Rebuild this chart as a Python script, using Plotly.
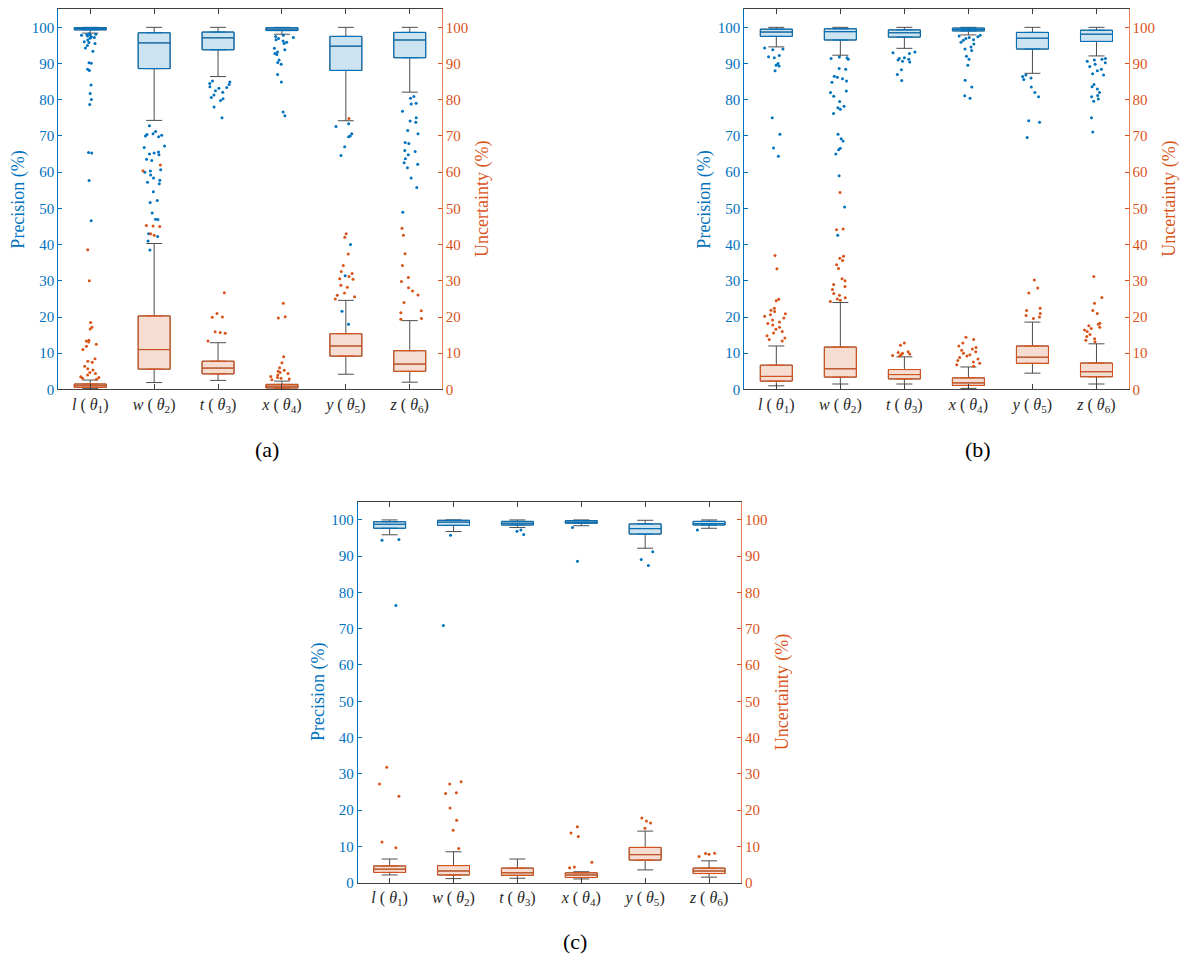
import plotly.graph_objects as go

# ---------------- data ----------------
CATEGORIES = ["l", "w", "t", "x", "y", "z"]
THETA_INDEX = ["1", "2", "3", "4", "5", "6"]
Y_TICKS = [0, 10, 20, 30, 40, 50, 60, 70, 80, 90, 100]
PANEL_LABELS = ["(a)", "(b)", "(c)"]
LEFT_TITLE = "Precision (%)"
RIGHT_TITLE = "Uncertainty (%)"

# Panel (a) - precision
A_PREC_Q1 = [99.3, 88.6, 93.8, 99.1, 88.1, 91.6]
A_PREC_MED = [99.6, 95.7, 97.1, 99.5, 94.8, 96.5]
A_PREC_Q3 = [99.9, 98.5, 98.7, 99.9, 97.5, 98.6]
A_PREC_LO = [98.4, 74.3, 86.4, 98.1, 74.2, 82.1]
A_PREC_HI = [100, 100, 100, 100, 100, 100]
A_PREC_OUT = [
    [98.2, 98.1, 98.0, 97.9, 97.8, 97.6, 97.4, 97.2, 97.0, 96.5, 96.0, 95.8, 95.5, 95.0,
     94.3, 93.4, 90.2, 90.1, 88.4, 88.1, 84.1, 81.7, 80.1, 78.7, 65.4, 65.3, 57.7, 46.6],
    [72.8, 71.2, 70.6, 70.4, 70.2, 70.0, 69.8, 67.2, 66.8, 65.6, 65.3, 65.0, 64.8, 63.6,
     63.2, 60.7, 60.3, 60.0, 59.2, 58.4, 57.8, 57.2, 56.8, 54.6, 52.2, 51.6, 48.7, 47.0,
     46.9, 43.0, 42.2, 41.0, 38.5],
    [85.2, 84.9, 84.5, 84.2, 83.6, 83.4, 83.2, 82.5, 82.1, 81.3, 80.6, 80.3, 79.8, 78.0, 75.0],
    [97.8, 97.5, 97.2, 96.9, 96.6, 96.2, 95.9, 95.5, 94.2, 93.8, 93.2, 92.8, 92.5, 91.0,
     90.3, 89.8, 87.0, 84.9, 76.6, 75.6],
    [73.4, 72.6, 70.6, 70.0, 69.8, 67.0, 64.6, 40.0, 31.4, 21.6, 18.0],
    [80.9, 80.4, 79.0, 78.8, 76.8, 75.0, 74.1, 73.8, 71.5, 70.6, 68.2, 67.9, 66.0, 65.7,
     64.8, 63.7, 62.6, 62.2, 61.2, 58.4, 55.8, 48.9],
]
# Panel (a) - uncertainty
A_UNC_Q1 = [0.55, 5.6, 4.3, 0.4, 9.2, 5.0]
A_UNC_MED = [1.0, 11.0, 5.9, 0.9, 12.0, 7.0]
A_UNC_Q3 = [1.5, 20.3, 7.8, 1.4, 15.4, 10.7]
A_UNC_LO = [0.3, 1.9, 2.5, 0.1, 4.2, 2.0]
A_UNC_HI = [2.6, 40.3, 12.9, 2.3, 24.6, 19.0]
A_UNC_OUT = [
    [38.6, 30.0, 18.5, 17.2, 16.7, 13.6, 13.4, 13.1, 12.5, 11.9, 11.0, 8.5, 7.8, 7.5,
     6.4, 5.7, 5.4, 4.7, 4.4, 4.0, 3.5, 3.3, 3.1, 2.8],
    [62.0, 60.4, 45.3, 45.1, 45.0, 43.0, 42.6],
    [26.7, 21.0, 20.0, 19.9, 15.9, 15.7, 15.5, 13.4],
    [23.8, 20.1, 19.7, 9.0, 7.4, 6.0, 5.3, 5.0, 4.7, 4.4, 4.0, 3.6, 3.3, 3.1, 2.9, 2.7],
    [74.8, 43.0, 42.0, 37.4, 34.2, 32.6, 32.0, 31.2, 30.6, 30.4, 28.8, 28.2, 26.6, 26.0,
     25.6, 25.0],
    [44.5, 42.6, 37.5, 34.2, 30.9, 29.8, 28.1, 27.2, 26.1, 24.0, 21.7, 21.2, 19.6, 19.4],
]

# Panel (b) - precision
B_PREC_Q1 = [97.5, 96.5, 97.3, 99.0, 94.0, 96.1]
B_PREC_MED = [98.7, 98.8, 98.5, 99.4, 97.0, 98.1]
B_PREC_Q3 = [99.5, 99.6, 99.3, 99.8, 98.6, 99.2]
B_PREC_LO = [94.6, 92.3, 94.2, 97.9, 87.3, 92.1]
B_PREC_HI = [100, 100, 100, 100, 100, 100]
B_PREC_OUT = [
    [94.3, 94.0, 93.8, 92.2, 91.9, 91.6, 90.0, 89.5, 89.3, 88.0, 75.0, 70.5, 66.7, 64.4],
    [91.8, 91.6, 91.4, 91.2, 88.6, 88.4, 86.5, 86.2, 85.8, 85.2, 84.8, 82.4, 82.0, 81.0,
     79.5, 78.2, 77.8, 77.4, 76.2, 70.5, 69.2, 68.6, 66.6, 66.2, 65.0, 59.0, 50.4, 42.6],
    [93.2, 93.0, 92.8, 91.6, 91.4, 91.2, 91.0, 90.6, 90.4, 88.3, 87.0, 85.3],
    [97.8, 97.6, 97.4, 97.2, 96.9, 96.6, 96.4, 95.9, 95.4, 94.6, 94.0, 93.6, 92.0, 91.2,
     89.5, 85.4, 83.5, 81.1, 80.4],
    [86.8, 86.4, 86.0, 85.6, 83.5, 82.0, 80.8, 74.2, 73.8, 69.6],
    [91.4, 91.2, 91.0, 90.6, 90.2, 89.8, 89.2, 88.4, 88.0, 87.2, 86.8, 84.2, 83.6, 83.0,
     82.0, 81.2, 80.8, 80.2, 79.6, 75.0, 71.1],
]
# Panel (b) - uncertainty
B_UNC_Q1 = [2.3, 3.4, 2.9, 1.1, 7.2, 3.5]
B_UNC_MED = [3.6, 5.7, 4.1, 1.8, 8.9, 4.9]
B_UNC_Q3 = [6.7, 11.7, 5.5, 3.2, 12.0, 7.3]
B_UNC_LO = [1.0, 1.5, 1.5, 0.3, 4.5, 1.5]
B_UNC_HI = [12.0, 24.0, 9.0, 6.2, 18.6, 12.6]
B_UNC_OUT = [
    [37.0, 33.3, 24.9, 24.5, 22.4, 21.9, 21.5, 20.9, 20.6, 20.2, 19.7, 19.2, 18.6, 18.2,
     17.8, 17.2, 16.6, 16.0, 15.6, 14.8, 14.2, 13.8, 13.4],
    [54.4, 44.3, 44.1, 36.8, 36.2, 35.6, 34.4, 33.4, 30.6, 30.0, 29.0, 28.4, 27.6, 26.5,
     26.0, 25.3, 25.0, 24.6, 24.3],
    [12.8, 12.2, 10.4, 10.2, 10.0, 9.8, 9.6, 9.4, 9.2],
    [14.4, 13.8, 12.8, 12.0, 11.6, 11.2, 10.8, 10.4, 10.0, 9.6, 9.2, 8.8, 8.4, 8.0, 7.6,
     7.2, 6.8, 6.4],
    [30.2, 28.0, 26.6, 22.4, 21.8, 21.0, 20.4, 20.0, 19.6],
    [31.2, 25.4, 23.8, 21.8, 21.0, 18.3, 18.0, 17.6, 17.2, 16.8, 16.4, 16.0, 15.2, 14.6,
     14.0, 13.6, 13.2],
]

# Panel (c) - precision
C_PREC_Q1 = [97.7, 98.5, 98.6, 99.1, 96.1, 98.6]
C_PREC_MED = [98.8, 99.4, 99.1, 99.4, 97.6, 99.0]
C_PREC_Q3 = [99.5, 99.9, 99.6, 99.8, 98.9, 99.6]
C_PREC_LO = [95.9, 96.8, 97.9, 98.4, 92.2, 97.7]
C_PREC_HI = [100, 100, 100, 100, 99.9, 100]
C_PREC_OUT = [
    [94.6, 94.4, 76.4],
    [95.8, 70.9],
    [97.2, 96.9, 96.0],
    [97.9, 88.6],
    [91.2, 89.1, 87.4],
    [97.2],
]
# Panel (c) - uncertainty
C_UNC_Q1 = [2.8, 2.1, 2.0, 1.4, 6.2, 2.5]
C_UNC_MED = [3.7, 3.2, 2.7, 2.1, 7.7, 3.2]
C_UNC_Q3 = [4.6, 4.7, 4.0, 2.7, 9.7, 4.0]
C_UNC_LO = [2.1, 1.1, 1.2, 1.0, 3.5, 1.5]
C_UNC_HI = [6.5, 8.5, 6.5, 3.0, 14.2, 6.0]
C_UNC_OUT = [
    [31.8, 27.2, 23.8, 11.2, 9.6],
    [27.8, 27.2, 24.8, 24.6, 20.6, 17.2, 14.4, 9.4],
    [],
    [15.4, 13.7, 12.7, 5.6, 4.3, 4.1],
    [17.8, 17.0, 16.4, 15.0],
    [8.1, 8.0, 7.8, 7.2],
]

# ---------------- styling ----------------
BLUE = "#0072BD"
ORANGE = "#D95319"
BLUE_FILL = "rgba(0,114,189,0.2)"
ORANGE_FILL = "rgba(217,83,25,0.2)"
WHISKER = "#4d4d4d"
AXIS_DARK = "#404040"
FONT = "'Liberation Serif', 'DejaVu Serif', 'Times New Roman', serif"
W, H = 1181, 962

POS = list(range(1, len(CATEGORIES) + 1))
TICKTEXT = [f"<i>{c}</i> ( <i>θ</i><sub>{i}</sub>)" for c, i in zip(CATEGORIES, THETA_INDEX)]

# panel geometry in pixels: (left, right, top, bottom)
PANELS_PX = [
    (58.3, 441.7, 9.3, 392.7),
    (744.3, 1128.5, 9.3, 392.7),
    (357.7, 741.0, 506.0, 890.0),
]
LABEL_PX = [(267, 453), (978, 453), (575, 949)]

fig = go.Figure()


def add_series(xa, ya, q1, med, q3, lo, hi, out, color, fill):
    # whiskers (dark grey)
    fig.add_trace(go.Box(
        x=POS, q1=q1, median=med, q3=q3, lowerfence=lo, upperfence=hi,
        width=0.5, whiskerwidth=0.5, boxpoints=False,
        line=dict(color=WHISKER, width=1), fillcolor="rgba(0,0,0,0)",
        xaxis=xa, yaxis=ya, showlegend=False, hoverinfo="skip"))
    # coloured box
    fig.add_trace(go.Box(
        x=POS, q1=q1, median=med, q3=q3, lowerfence=q1, upperfence=q3,
        width=0.5, whiskerwidth=0.5, boxpoints=False,
        line=dict(color=color, width=1), fillcolor=fill,
        xaxis=xa, yaxis=ya, showlegend=False, hoverinfo="skip"))
    # outliers, jittered by the library
    ox = [p for p, vals in zip(POS, out) for _ in vals]
    oy = [v for vals in out for v in vals]
    fig.add_trace(go.Box(
        x=ox, y=oy, boxpoints="all", jitter=0.75, pointpos=0, width=0.5,
        whiskerwidth=0, line=dict(color="rgba(0,0,0,0)", width=0),
        fillcolor="rgba(0,0,0,0)", marker=dict(color=color, size=3),
        xaxis=xa, yaxis=ya, showlegend=False, hoverinfo="skip"))


PANEL_DATA = [
    ((A_PREC_Q1, A_PREC_MED, A_PREC_Q3, A_PREC_LO, A_PREC_HI, A_PREC_OUT),
     (A_UNC_Q1, A_UNC_MED, A_UNC_Q3, A_UNC_LO, A_UNC_HI, A_UNC_OUT)),
    ((B_PREC_Q1, B_PREC_MED, B_PREC_Q3, B_PREC_LO, B_PREC_HI, B_PREC_OUT),
     (B_UNC_Q1, B_UNC_MED, B_UNC_Q3, B_UNC_LO, B_UNC_HI, B_UNC_OUT)),
    ((C_PREC_Q1, C_PREC_MED, C_PREC_Q3, C_PREC_LO, C_PREC_HI, C_PREC_OUT),
     (C_UNC_Q1, C_UNC_MED, C_UNC_Q3, C_UNC_LO, C_UNC_HI, C_UNC_OUT)),
]

layout = {}
annotations = []
for k, ((prec, unc), (l, r, t, b), (lx, ly), lab) in enumerate(
        zip(PANEL_DATA, PANELS_PX, LABEL_PX, PANEL_LABELS)):
    xi = "" if k == 0 else str(k + 1)
    yl_i = "" if k == 0 else str(2 * k + 1)
    yr_i = str(2 * k + 2)
    xa, yl, yr = "x" + xi, "y" + yl_i, "y" + yr_i

    add_series(xa, yl, *prec, BLUE, BLUE_FILL)
    add_series(xa, yr, *unc, ORANGE, ORANGE_FILL)

    dom_x = [l / W, r / W]
    dom_y = [1 - b / H, 1 - t / H]
    layout["xaxis" + xi] = dict(
        domain=dom_x, anchor=yl, range=[0.5, len(CATEGORIES) + 0.5],
        tickvals=POS, ticktext=TICKTEXT, ticks="inside", ticklen=5,
        tickcolor=AXIS_DARK, showline=True, linecolor=AXIS_DARK, linewidth=1,
        mirror="ticks", showgrid=False, zeroline=False,
        tickfont=dict(family=FONT, size=16, color="#262626"))
    layout["yaxis" + yl_i] = dict(
        domain=dom_y, anchor=xa, range=[0, 105], tickvals=Y_TICKS,
        ticks="inside", ticklen=4, tickcolor=BLUE, showline=True, linecolor=BLUE,
        linewidth=1, showgrid=False, zeroline=False,
        tickfont=dict(family=FONT, size=15, color=BLUE))
    layout["yaxis" + yr_i] = dict(
        overlaying=yl, anchor=xa, side="right", range=[0, 105], tickvals=Y_TICKS,
        ticks="inside", ticklen=4, tickcolor=ORANGE, showline=True,
        linecolor="#E2825A", linewidth=1, showgrid=False, zeroline=False,
        tickfont=dict(family=FONT, size=15, color=ORANGE))

    yc = 1 - (t + b) / 2 / H
    annotations.append(dict(
        text=LEFT_TITLE, x=(l - 40) / W, y=yc, xref="paper", yref="paper",
        textangle=-90, showarrow=False, xanchor="center", yanchor="middle",
        font=dict(family=FONT, size=18, color=BLUE)))
    annotations.append(dict(
        text=RIGHT_TITLE, x=(r + 41) / W, y=yc, xref="paper", yref="paper",
        textangle=-90, showarrow=False, xanchor="center", yanchor="middle",
        font=dict(family=FONT, size=18, color=ORANGE)))
    annotations.append(dict(
        text=lab, x=lx / W, y=1 - ly / H, xref="paper", yref="paper",
        showarrow=False, xanchor="center", yanchor="middle",
        font=dict(family=FONT, size=22, color="#000000")))

fig.update_layout(
    width=W, height=H, margin=dict(l=0, r=0, t=0, b=0),
    paper_bgcolor="white", plot_bgcolor="white", showlegend=False,
    font=dict(family=FONT),
    boxmode="overlay", annotations=annotations, **layout)

fig.write_html("out.html")
